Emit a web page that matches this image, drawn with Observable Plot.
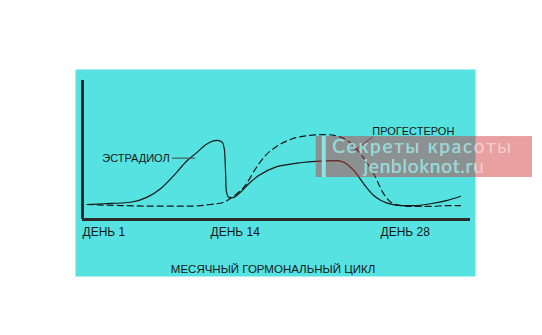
<!DOCTYPE html>
<html>
<head>
<meta charset="utf-8">
<script src="https://cdn.jsdelivr.net/npm/d3@7"></script>
<script src="https://cdn.jsdelivr.net/npm/@observablehq/plot@0.6"></script>
<style>
  html, body { margin: 0; padding: 0; background: #fff; }
</style>
</head>
<body>
<div id="chart"></div>
<script>
// Estradiol (solid) – cycle position vs. relative level
const estDay = [0.94, 2.24, 4.4, 5.74, 6.8, 7.86, 8.94, 9.74, 10.54, 11.34, 11.74, 11.92, 12.0, 12.06, 12.26, 12.54, 13.06, 13.86, 14.66, 16.0, 17.34, 19.2, 20.94, 21.46, 22.26, 23.06, 23.86, 24.94, 26.0, 27.06, 28.4, 29.74, 30.8];
const estVal = [10, 10.5, 11.5, 14.9, 20.5, 29.3, 39.3, 44.9, 50.5, 52.7, 51.5, 46, 32.7, 19.3, 14.9, 14.5, 17.1, 23.8, 29.3, 34.9, 37.1, 38.7, 39.3, 38.2, 32.7, 23.8, 16, 10.9, 9.3, 9.3, 10.5, 12.7, 15.5];
// Progesterone (dashed)
const progDay = [0.94, 3.6, 6.26, 8.94, 10.8, 11.86, 12.54, 13.6, 14.4, 15.2, 16.0, 17.34, 18.66, 20.0, 20.6, 21.74, 22.8, 23.86, 24.66, 25.46, 26.8, 28.4, 29.74, 30.8];
const progVal = [10, 9.3, 8.9, 8.9, 10, 11.5, 14.9, 22.9, 33.8, 42.7, 48.2, 53.8, 56.0, 56.6, 56.2, 52.7, 43.8, 30.5, 17.1, 10.5, 8.7, 8.7, 9.3, 9.3];

const dayLabels = ["ДЕНЬ 1", "ДЕНЬ 14", "ДЕНЬ 28"];
const dayLabelX = [0.56, 10.8, 24.4];
const seriesNames = ["ЭСТРАДИОЛ", "ПРОГЕСТЕРОН"];
const title = "МЕСЯЧНЫЙ ГОРМОНАЛЬНЫЙ ЦИКЛ";
const watermark = ["Секреты красоты", "jenbloknot.ru"];

const est = estDay.map((d, i) => ({day: d, v: estVal[i]}));
const prog = progDay.map((d, i) => ({day: d, v: progVal[i]}));

const ink = "#161616";
const font = "'Liberation Sans', Arial, sans-serif";
const wmFont = "Lato, sans-serif";

const chart = Plot.plot({
  width: 542,
  height: 335,
  marginLeft: 75,
  marginRight: 67,
  marginTop: 69,
  marginBottom: 59,
  x: {domain: [0, 32], axis: null},
  y: {domain: [-38, 100], axis: null},
  style: {background: "#fff", fontFamily: font, overflow: "visible"},
  marks: [
    Plot.frame({fill: "#57e2e2", stroke: null}),
    // axes
    Plot.ruleY([0], {x1: 0.56, x2: 31.6, stroke: "#2b2b2b", strokeWidth: 3}),
    Plot.ruleX([0.56], {y1: 0, y2: 92.7, stroke: "#2b2b2b", strokeWidth: 3}),
    // curves
    Plot.line(prog, {x: "day", y: "v", curve: "monotone-x", stroke: ink, strokeWidth: 1.2, strokeDasharray: "6,4"}),
    Plot.line(est, {x: "day", y: "v", curve: "monotone-x", stroke: ink, strokeWidth: 1.2}),
    // series labels + leaders
    Plot.text([seriesNames[0]], {x: 2.14, y: 40.9, text: d => d, textAnchor: "start", fontSize: 11, fill: ink}),
    Plot.ruleY([40.9], {x1: 7.76, x2: 9.6, stroke: "#444", strokeWidth: 1}),
    Plot.text([seriesNames[1]], {x: 23.74, y: 58.9, text: d => d, textAnchor: "start", fontSize: 11, fill: ink}),
    Plot.link([0], {x1: 23.78, y1: 55.1, x2: 22.16, y2: 45, stroke: "#444", strokeWidth: 1}),
    // day labels
    Plot.text(dayLabels, {x: (d, i) => dayLabelX[i], y: -8.5, text: d => d, textAnchor: "start", fontSize: 12, fill: ink}),
    Plot.text([title], {x: 15.8, y: -32.9, text: d => d, fontSize: 11.5, fill: ink}),
    // watermark
    Plot.rect([0], {x1: 19.26, x2: 36.56, y1: 28, y2: 55.3, fill: "rgb(205,44,44)", fillOpacity: 0.45}),
    Plot.rect([0], {x1: 19.74, x2: 20.06, y1: 28, y2: 55.3, fill: "#8ee3e3"}),
    Plot.text([watermark[0]], {x: 20.54, y: 48.7, text: d => d, textAnchor: "start", fontSize: 19, fontFamily: wmFont, fill: "#f3cfcf"}),
    Plot.text([watermark[1]], {x: 23.04, y: 34.9, text: d => d, textAnchor: "start", fontSize: 19, fontFamily: wmFont, fill: "#f3cfcf"}),
    Plot.text([watermark[0]], {x: 20.54, y: 48.7, text: d => d, textAnchor: "start", fontSize: 19, fontFamily: wmFont, fill: "#86dcdc", clip: true}),
    Plot.text([watermark[1]], {x: 23.04, y: 34.9, text: d => d, textAnchor: "start", fontSize: 19, fontFamily: wmFont, fill: "#86dcdc", clip: true})
  ]
});
d3.select(chart).selectAll("text").each(function() {
  const t = this.textContent;
  if (t === watermark[0]) this.setAttribute("letter-spacing", "1.8");
  if (t === watermark[1]) this.setAttribute("letter-spacing", "0.8");
});
document.getElementById("chart").appendChild(chart);
</script>
</body>
</html>
